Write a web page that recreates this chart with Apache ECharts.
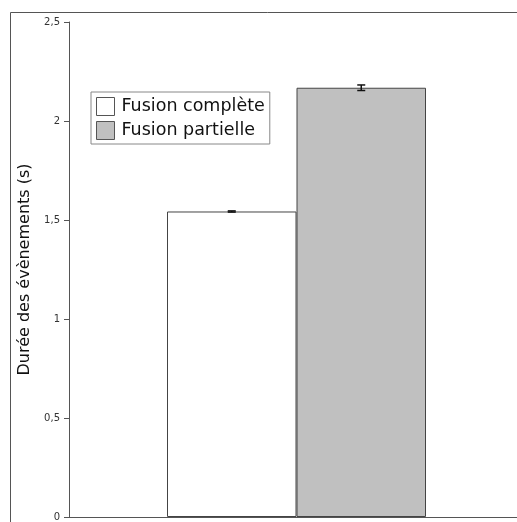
<!DOCTYPE html>
<html>
<head>
<meta charset="utf-8">
<script src="https://cdn.jsdelivr.net/npm/echarts@6/dist/echarts.min.js"></script>
<style>html,body{margin:0;padding:0;background:#fff;overflow:hidden;width:517px;height:522px;}#c{width:524px;height:522px;}</style>
</head>
<body>
<div id="c"></div>
<script>
var categories = [''];
var seriesNames = ['Fusion complète', 'Fusion partielle'];
var durations = [1.543, 2.168];
var errors = [0.003, 0.014];
var yTicks = [0, 0.5, 1, 1.5, 2, 2.5];
var yAxisTitle = 'Durée des évènements (s)';

var BAR_W = 129.5;
var fills = ['#ffffff', '#c0c0c0'];
var chart = echarts.init(document.getElementById('c'));
var barSeries = seriesNames.map(function (n, i) {
  return {
    name: n, type: 'bar', barWidth: BAR_W, barGap: '0%',
    data: [durations[i]],
    itemStyle: { color: fills[i], borderColor: '#444', borderWidth: 1 },
    emphasis: { disabled: true }, animation: false
  };
});
var errSeries = {
  type: 'custom', silent: true, animation: false, z: 10,
  data: durations.map(function (v, i) { return [0, v, errors[i], i]; }),
  renderItem: function (params, api) {
    var i = api.value(3);
    var off = (i === 0 ? -1 : 1) * BAR_W / 2;
    var hi = api.coord([0, api.value(1) + api.value(2)]);
    var lo = api.coord([0, api.value(1) - api.value(2)]);
    var x = hi[0] + off;
    var cw = 4;
    var st = { stroke: '#111', lineWidth: 1.5 };
    return { type: 'group', children: [
      { type: 'line', shape: { x1: x, y1: hi[1], x2: x, y2: lo[1] }, style: st },
      { type: 'line', shape: { x1: x - cw, y1: hi[1], x2: x + cw, y2: hi[1] }, style: st },
      { type: 'line', shape: { x1: x - cw, y1: lo[1], x2: x + cw, y2: lo[1] }, style: st }
    ]};
  }
};
chart.setOption({
  animation: false,
  textStyle: { fontFamily: 'DejaVu Sans' },
  graphic: [{ type: 'rect', z: -10, silent: true,
    shape: { x: 10.5, y: 12.5, width: 700, height: 700 },
    style: { fill: 'none', stroke: '#555', lineWidth: 1 } }],
  grid: { left: 69, top: 22, bottom: 3, right: 0, containLabel: false },
  legend: {
    orient: 'vertical', left: 91, top: 92,
    data: seriesNames,
    itemWidth: 18, itemHeight: 18, itemGap: 5,
    padding: [5, 5, 4, 5],
    borderColor: '#888', borderWidth: 1, backgroundColor: '#fff',
    icon: 'rect',
    textStyle: { fontSize: 17.5, color: '#111', fontFamily: 'DejaVu Sans', padding: [0, 0, 0, 2] },
    itemStyle: { borderColor: '#555', borderWidth: 1 }
  },
  xAxis: {
    type: 'category', data: categories,
    axisTick: { show: false }, axisLabel: { show: false },
    axisLine: { lineStyle: { color: '#555', width: 1 } }
  },
  yAxis: {
    type: 'value', min: 0, max: yTicks[yTicks.length - 1], interval: 0.5,
    name: yAxisTitle, nameLocation: 'middle', nameGap: 34,
    nameTextStyle: { fontSize: 16, color: '#111', fontFamily: 'DejaVu Sans' },
    splitLine: { show: false },
    axisLine: { show: true, lineStyle: { color: '#555', width: 1 } },
    axisTick: { show: true, length: 5, lineStyle: { color: '#555' } },
    axisLabel: { fontSize: 10, color: '#333', margin: 9, fontFamily: 'DejaVu Sans',
      formatter: function (v) { return String(v).replace('.', ','); } }
  },
  series: barSeries.concat([errSeries])
});
</script>
</body>
</html>
